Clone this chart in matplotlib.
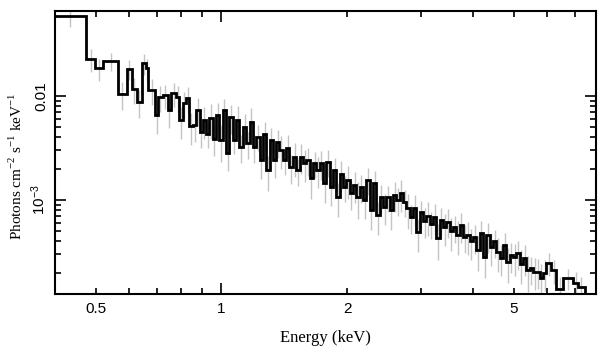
import matplotlib
matplotlib.use('Agg')
import matplotlib.pyplot as plt
import numpy as np
from matplotlib.ticker import FixedLocator, FuncFormatter, NullFormatter

plt.rcParams['mathtext.fontset'] = 'custom'
plt.rcParams['mathtext.rm'] = 'Liberation Serif'
plt.rcParams['mathtext.sf'] = 'Liberation Sans'

# --- spectrum ---
# bin edges (keV)
edges = [0.400, 0.474, 0.499, 0.522, 0.565, 0.594, 0.610, 0.627, 0.645, 0.660, 0.669, 0.695,
         0.704, 0.724, 0.744, 0.758, 0.779, 0.793, 0.808, 0.823, 0.838, 0.854, 0.870, 0.886,
         0.902, 0.919, 0.936, 0.953, 0.971, 0.989, 1.007, 1.026, 1.045, 1.064,
         1.084, 1.104, 1.125, 1.146, 1.167, 1.188, 1.210, 1.233, 1.256, 1.279,
         1.303, 1.327, 1.351, 1.376, 1.402, 1.428, 1.454, 1.481, 1.509, 1.537,
         1.565, 1.594, 1.624, 1.654, 1.685, 1.716, 1.748, 1.780, 1.813, 1.846,
         1.881, 1.916, 1.951, 1.987, 2.024, 2.061, 2.100, 2.139, 2.178, 2.219,
         2.260, 2.302, 2.344, 2.388, 2.432, 2.477, 2.523, 2.570, 2.617, 2.666,
         2.715, 2.765, 2.817, 2.869, 2.922, 2.976, 3.031, 3.087, 3.145, 3.203,
         3.262, 3.323, 3.384, 3.447, 3.511, 3.576, 3.642, 3.710, 3.778, 3.848,
         3.920, 3.992, 4.066, 4.141, 4.218, 4.296, 4.376, 4.457, 4.540, 4.624,
         4.709, 4.797, 4.886, 4.976, 5.068, 5.162, 5.258, 5.355, 5.454, 5.556,
         5.658, 5.763, 5.870, 5.979,
         6.15, 6.32, 6.55, 6.92, 7.12, 7.39, 7.70]

# photons cm^-2 s^-1 keV^-1, in units of 1e-3
flux_e3 = [59, 22.5, 18.5, 21.6, 10.4, 18.1, 11.7, 8.8, 20.6, 18.5, 11.4,
           6.6, 9.85, 10.2, 7.3, 10.6, 9.85, 5.9, 8.5, 9.5, 5.1, 5.3, 7.3,
           4.55, 5.88, 4.35, 6.1, 3.9, 6.57, 3.78, 7.34, 2.81, 6.3,
           3.78, 5.88, 3.26, 5.07, 3.5, 5.6, 3.26, 4.07, 2.42, 4.35,
           1.94, 3.78, 2.42, 3.65, 3.03, 2.42, 3.15, 2.09, 2.62, 1.94,
           2.62, 2.25, 2.42, 1.62, 2.25, 1.94, 2.25, 1.45, 2.33, 1.34,
           1.94, 1.07, 1.80, 1.34, 1.56, 1.16, 1.39, 1.07, 1.34, 1.00,
           1.56, 0.80, 1.45, 0.717, 1.07, 0.86, 1.07, 0.80, 1.12, 1.00,
           1.16, 0.96, 0.83, 0.68, 0.84, 0.49, 0.76, 0.63, 0.70, 0.59,
           0.69, 0.43, 0.64, 0.55, 0.62, 0.50, 0.55, 0.46, 0.574, 0.44,
           0.46, 0.40, 0.44, 0.33, 0.48, 0.285, 0.46, 0.355, 0.40, 0.32,
           0.275, 0.369, 0.255, 0.295, 0.285, 0.31, 0.245, 0.275, 0.212, 0.22,
           0.205, 0.205, 0.18, 0.20,
           0.248, 0.212, 0.141, 0.177, 0.159, 0.145, 0.10]

# relative 1-sigma errors
rel_err = [0.22, 0.25, 0.24, 0.20, 0.30, 0.22, 0.28, 0.30, 0.22, 0.24, 0.28,
           0.35, 0.28, 0.26, 0.32, 0.26, 0.28, 0.34, 0.30, 0.28, 0.34, 0.32, 0.30,
           0.30, 0.34, 0.28, 0.36, 0.32, 0.30, 0.38, 0.29, 0.33, 0.31,
           0.27, 0.35, 0.30, 0.33, 0.29, 0.36, 0.31, 0.28, 0.34, 0.30,
           0.37, 0.29, 0.32, 0.30, 0.35, 0.28, 0.33, 0.31, 0.36, 0.29,
           0.32, 0.34, 0.30, 0.37, 0.28, 0.33, 0.31, 0.35, 0.29, 0.34,
           0.30, 0.36, 0.32, 0.28, 0.35, 0.31, 0.33, 0.38, 0.30, 0.34,
           0.29, 0.36, 0.31, 0.35, 0.30, 0.33, 0.28, 0.36, 0.32, 0.30,
           0.34, 0.29, 0.37, 0.31, 0.33, 0.35, 0.30, 0.32, 0.36, 0.29,
           0.33, 0.38, 0.30, 0.34, 0.31, 0.35, 0.29, 0.36, 0.32, 0.30,
           0.35, 0.33, 0.31, 0.37, 0.30, 0.38, 0.32, 0.34, 0.30, 0.36,
           0.33, 0.30, 0.37, 0.32, 0.34, 0.31, 0.36, 0.33, 0.38, 0.30,
           0.34, 0.32, 0.36, 0.33,
           0.25, 0.26, 0.30, 0.22, 0.28, 0.26, 0.0]

edges = np.array(edges)
flux = np.array(flux_e3) * 1e-3
err = flux * np.array(rel_err)
centers = np.sqrt(edges[:-1] * edges[1:])

fig = plt.figure(figsize=(6.08, 3.57), dpi=100)
ax = fig.add_axes([0.0905, 0.1765, 0.8895, 0.7925])

ax.vlines(centers, flux - err, flux + err, color='#c4c4c4', lw=1, zorder=1)
ax.stairs(flux, edges, baseline=None, color='k', lw=2, zorder=2)

ax.set_xscale('log')
ax.set_yscale('log')
ax.set_xlim(0.4, 7.85)
ax.set_ylim(1.25e-4, 0.0656)

# ticks: long at decades, short elsewhere, all inward on four sides
ax.xaxis.set_major_locator(FixedLocator([1]))
ax.xaxis.set_minor_locator(FixedLocator([0.4, 0.5, 0.6, 0.7, 0.8, 0.9, 2, 3, 4, 5, 6, 7]))
ax.xaxis.set_major_formatter(FuncFormatter(lambda v, p: '1'))
ax.xaxis.set_minor_formatter(FuncFormatter(
    lambda v, p: {0.5: '0.5', 2: '2', 5: '5'}.get(round(v, 2), '')))

ax.yaxis.set_major_locator(FixedLocator([1e-3, 1e-2]))
ax.yaxis.set_minor_locator(FixedLocator(
    [m * 1e-4 for m in range(2, 10)] + [m * 1e-3 for m in range(2, 10)]))
ax.yaxis.set_major_formatter(FuncFormatter(
    lambda v, p: '0.01' if v > 5e-3 else r'$\mathsf{10^{-3}}$'))
ax.yaxis.set_minor_formatter(NullFormatter())

ax.tick_params(which='both', direction='in', top=True, right=True, width=1.2,
               labelsize=11)
ax.tick_params(which='major', length=8)
ax.tick_params(which='minor', length=4)
ax.tick_params(axis='x', which='both', pad=6)
ax.tick_params(axis='y', which='both', pad=5)
for lab in ax.get_yticklabels():
    lab.set_rotation(90)
    lab.set_va('center')
for lab in ax.get_xticklabels() + ax.get_xticklabels(minor=True) + ax.get_yticklabels():
    lab.set_family('Liberation Sans')

for s in ax.spines.values():
    s.set_linewidth(1.5)

ax.set_xlabel('Energy (keV)', family='Liberation Serif', fontsize=12, labelpad=10)
ax.set_ylabel(r'Photons cm$^{-2}$ s$^{-1}$ keV$^{-1}$', family='Liberation Serif',
              fontsize=11)
ax.yaxis.set_label_coords(-0.055, 0.452)

fig.savefig('out.png', dpi=100)
